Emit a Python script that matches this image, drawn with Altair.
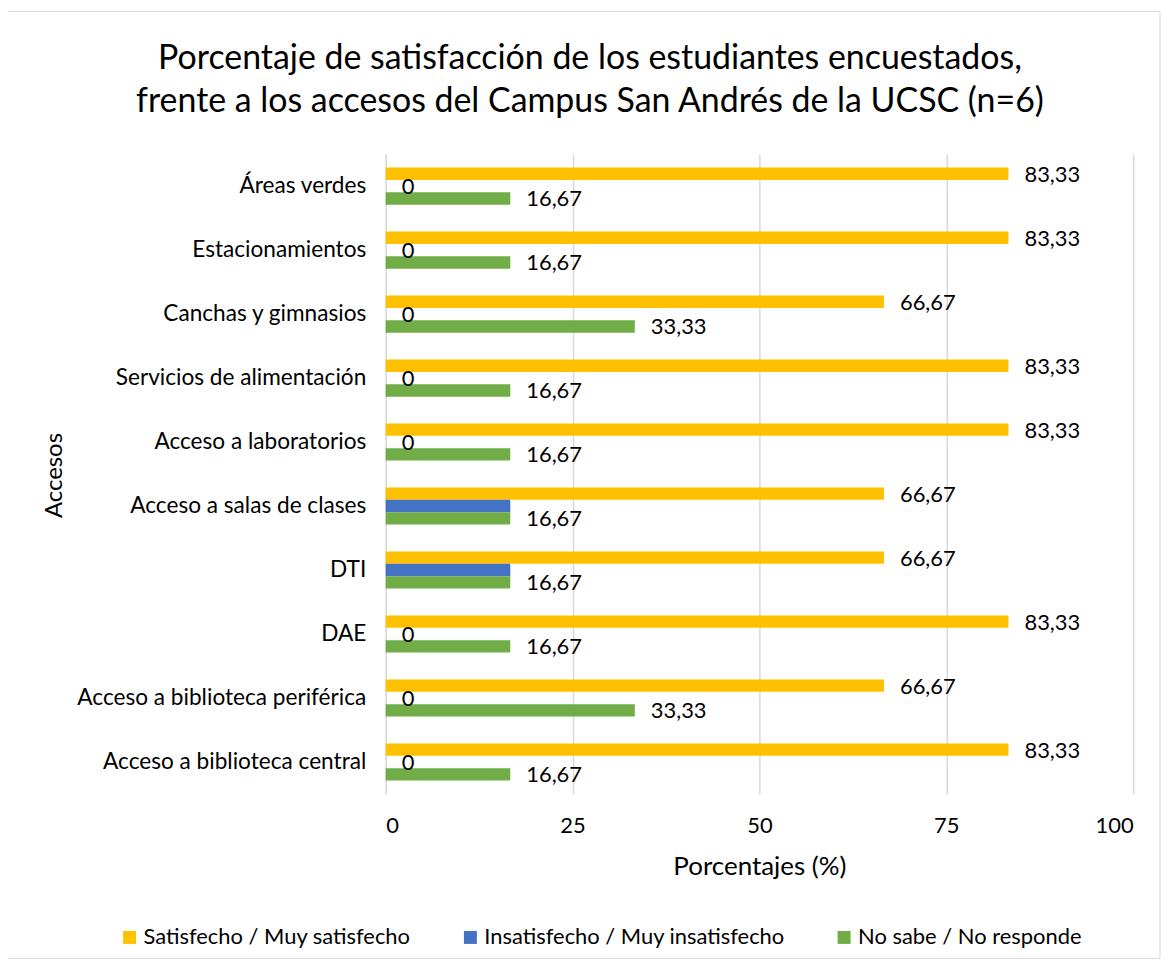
import altair as alt
import pandas as pd

categories = [
    "Áreas verdes",
    "Estacionamientos",
    "Canchas y gimnasios",
    "Servicios de alimentación",
    "Acceso a laboratorios",
    "Acceso a salas de clases",
    "DTI",
    "DAE",
    "Acceso a biblioteca periférica",
    "Acceso a biblioteca central",
]
series = [
    "Satisfecho / Muy satisfecho",
    "Insatisfecho / Muy insatisfecho",
    "No sabe / No responde",
]
colors = ["#FFC000", "#4472C4", "#70AD47"]

satisfecho = [83.33, 83.33, 66.67, 83.33, 83.33, 66.67, 66.67, 83.33, 66.67, 83.33]
insatisfecho = [0, 0, 0, 0, 0, 16.67, 16.67, 0, 0, 0]
no_sabe = [16.67, 16.67, 33.33, 16.67, 16.67, 16.67, 16.67, 16.67, 33.33, 16.67]

rows = []
for i, c in enumerate(categories):
    for s, vals in zip(series, [satisfecho, insatisfecho, no_sabe]):
        v = vals[i]
        lab = "0" if v == 0 else f"{v:.2f}".replace(".", ",")
        # overlapping label of the blue bar is hidden in the original
        if s == series[1] and v != 0:
            lab = ""
        rows.append({"Acceso": c, "Serie": s, "Valor": v, "Etiqueta": lab})
df = pd.DataFrame(rows)

FONT = "Lato"
TXT = "#000000"
LBL = 22

y_enc = alt.Y(
    "Acceso:N",
    sort=categories,
    scale=alt.Scale(paddingInner=0.42, paddingOuter=0.21),
    axis=alt.Axis(
        title="Accesos",
        titleFont=FONT,
        titleFontSize=24,
        titleFontWeight="normal",
        titleColor=TXT,
        titleAngle=270,
        titleX=-332,
        titleY=322,
        titleAlign="center",
        titleBaseline="middle",
        labelFont=FONT,
        labelFontSize=22.7,
        labelColor=TXT,
        labelPadding=20,
        ticks=False,
        domain=True,
        domainColor="#D9D9D9",
        domainWidth=1,
        grid=False,
        labelLimit=400,
    ),
)
yoff_enc = alt.YOffset("Serie:N", sort=series, scale=alt.Scale(paddingInner=0, paddingOuter=0))
x_enc = alt.X(
    "Valor:Q",
    scale=alt.Scale(domain=[0, 100], nice=False),
    axis=alt.Axis(
        title="Porcentajes (%)",
        titleFont=FONT,
        titleFontSize=26,
        titleFontWeight="normal",
        titleColor=TXT,
        titleY=73,
        titleBaseline="middle",
        values=[0, 25, 50, 75, 100],
        labelFont=FONT,
        labelFontSize=LBL,
        labelColor=TXT,
        labelPadding=22,
        ticks=False,
        tickSize=0,
        domain=False,
        grid=True,
        gridColor="#D9D9D9",
        gridWidth=1.5,
    ),
)

base = alt.Chart(df)

bars = base.mark_bar().encode(
    y=y_enc,
    yOffset=yoff_enc,
    x=x_enc,
    color=alt.Color(
        "Serie:N",
        sort=series,
        scale=alt.Scale(domain=series, range=colors),
        legend=alt.Legend(
            title=None,
            orient="none",
            direction="horizontal",
            legendX=-268,
            legendY=775,
            symbolType="square",
            symbolSize=169,
            symbolStrokeWidth=0,
            labelFont=FONT,
            labelFontSize=LBL,
            labelColor=TXT,
            labelOffset=3,
            columnPadding=48,
            labelLimit=400,
        ),
    ),
)

labels = base.mark_text(
    align="left", baseline="middle", dx=16, dy=1, font=FONT, fontSize=LBL, color=TXT
).encode(
    y=alt.Y("Acceso:N", sort=categories),
    yOffset=alt.YOffset("Serie:N", sort=series),
    x=alt.X("Valor:Q"),
    text="Etiqueta:N",
)

frame = alt.Chart(pd.DataFrame({"a": [0]})).mark_rect(
    filled=False, stroke="#D9D9D9", strokeWidth=1
).encode(
    x=alt.value(-381), x2=alt.value(777), y=alt.value(-143), y2=alt.value(807)
)

chart = (
    alt.layer(frame, bars, labels)
    .properties(
        width=750,
        height=642,
        padding={"left": 379, "top": 145, "right": 30, "bottom": 170},
        autosize=alt.AutoSizeParams(type="none"),
        title=alt.TitleParams(
            text=[
                "Porcentaje de satisfacción de los estudiantes encuestados,",
                "frente a los accesos del Campus San Andrés de la UCSC (n=6)",
            ],
            font=FONT,
            fontSize=34,
            fontWeight="normal",
            color=TXT,
            anchor="middle",
            baseline="top",
            dx=-170,
            dy=108,
            lineHeight=43,
            offset=0,
        ),
    )
    .configure_view(strokeWidth=0)
)

chart.save("out.html", embed_options={"renderer": "svg", "actions": False})
